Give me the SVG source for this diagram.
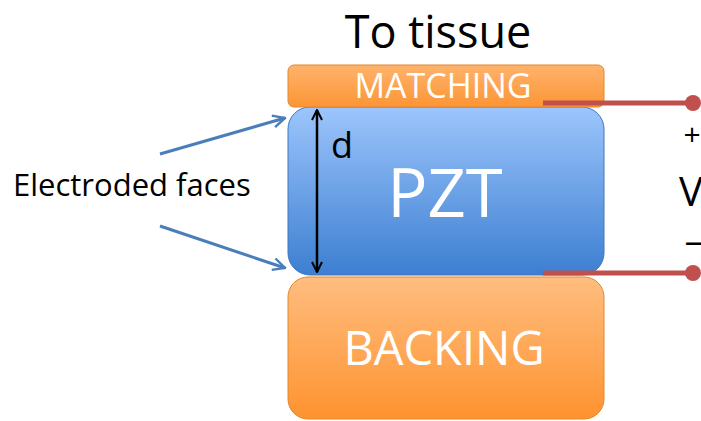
<svg xmlns="http://www.w3.org/2000/svg" width="701" height="421" viewBox="0 0 701 421">
<defs>
<linearGradient id="gBlue" x1="0" y1="0" x2="0" y2="1">
<stop offset="0" stop-color="#9dc5fc"/>
<stop offset="1" stop-color="#3c7fd1"/>
</linearGradient>
<linearGradient id="gOr" x1="0" y1="0" x2="0" y2="1">
<stop offset="0" stop-color="#ffbd7f"/>
<stop offset="1" stop-color="#fe9330"/>
</linearGradient>
<linearGradient id="gMat" x1="0" y1="0" x2="0" y2="1">
<stop offset="0" stop-color="#ffb36c"/>
<stop offset="1" stop-color="#fc9535"/>
</linearGradient>
<marker id="ab" viewBox="0 0 10 10" refX="9" refY="5" markerWidth="5" markerHeight="5" orient="auto-start-reverse" markerUnits="strokeWidth">
<path d="M1,1 L9,5 L1,9" fill="none" stroke="#4a7ebb" stroke-width="1.6"/>
</marker>
<marker id="ak" viewBox="0 0 10 10" refX="9" refY="5" markerWidth="5" markerHeight="5" orient="auto-start-reverse" markerUnits="strokeWidth">
<path d="M1,1 L9,5 L1,9" fill="none" stroke="#000" stroke-width="1.6"/>
</marker>
<style>
text{font-family:"Open Sans","Liberation Sans",sans-serif;}
.w{fill:#fff;}
.k{fill:#000;}
.box{stroke:#e0892e;stroke-width:1;}
</style>
</defs>
<g id="title"><text x="438" y="48" font-size="45" text-anchor="middle" class="k">To tissue</text></g>
<g id="backing">
<rect x="288" y="277" width="316" height="142" rx="20" fill="url(#gOr)" class="box"/>
<text x="444" y="365" font-size="47" text-anchor="middle" class="w">BACKING</text>
</g>
<g id="pzt">
<rect x="288" y="107" width="316" height="168" rx="22" fill="url(#gBlue)" stroke="#3f78c0" stroke-width="1"/>
<text x="445" y="217" font-size="67" text-anchor="middle" class="w">PZT</text>
</g>
<g id="matching">
<rect x="288" y="65" width="316" height="42" rx="6" fill="url(#gMat)" class="box"/>
<text x="443" y="98" font-size="34" text-anchor="middle" class="w">MATCHING</text>
</g>
<g id="label-electroded"><text x="13" y="196" font-size="31" class="k">Electroded faces</text></g>
<g id="label-d"><text x="331" y="158" font-size="36" class="k">d</text></g>
<g id="voltage">
<text x="692" y="145" font-size="30" text-anchor="middle" class="k">+</text>
<text x="679" y="206" font-size="40" class="k">V</text>
<text x="684" y="258" font-size="40" class="k">−</text>
</g>
<g id="connectors">
<line x1="160" y1="154" x2="285" y2="118" stroke="#4a7ebb" stroke-width="3" marker-end="url(#ab)"/>
<line x1="160" y1="226" x2="285" y2="268" stroke="#4a7ebb" stroke-width="3" marker-end="url(#ab)"/>
<line x1="317" y1="110" x2="317" y2="272" stroke="#000" stroke-width="2.5" marker-start="url(#ak)" marker-end="url(#ak)"/>
<line x1="543" y1="103" x2="693" y2="103" stroke="#c0504d" stroke-width="5"/>
<circle cx="693" cy="103" r="8" fill="#c0504d"/>
<line x1="543" y1="273" x2="693" y2="273" stroke="#c0504d" stroke-width="5"/>
<circle cx="693" cy="273" r="8" fill="#c0504d"/>
</g>
</svg>
